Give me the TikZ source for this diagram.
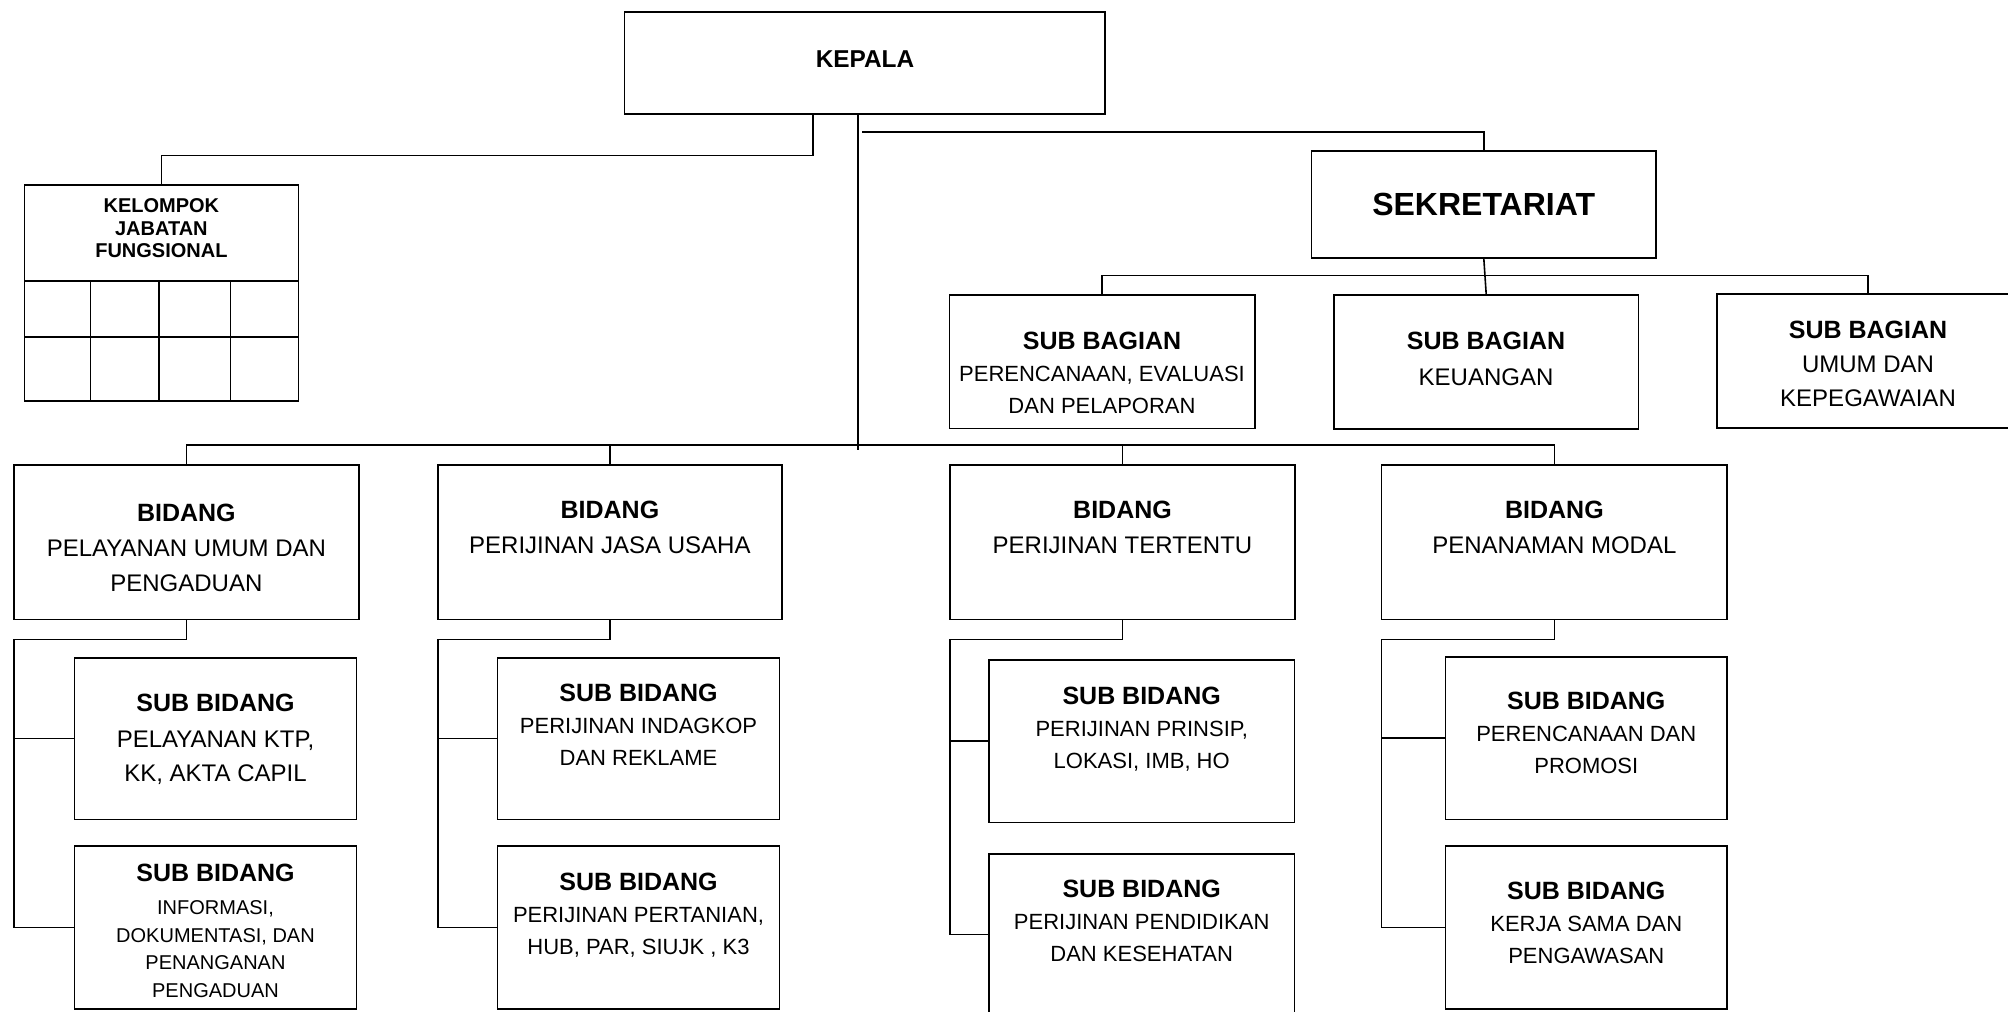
\documentclass[tikz,border=0pt]{standalone}
\usepackage{fontspec}
\setmainfont{Liberation Sans}
\usetikzlibrary{fit}
\newcommand{\hd}[1]{{\fontsize{12.5}{15}\selectfont\bfseries #1}}

\begin{document}
\begin{tikzpicture}[x=0.5pt, y=-0.5pt, line width=0.8pt,
  box/.style={draw, inner sep=0pt, outer sep=0pt},
  txt/.style={align=center, inner sep=0pt, anchor=north, font=\fontsize{12}{17}\selectfont},
  txtsmall/.style={txt, font=\fontsize{11}{16}\selectfont},
  txttiny/.style={txt, font=\fontsize{10}{13.7}\selectfont}]
\useasboundingbox (0,0) rectangle (2008,1012);
\clip (0,0) rectangle (2008,1012);

\node[box, fit={(624.3,12) (1105,113.7)}] (kepala) {};
\node[txt, font=\fontsize{12.2}{14}\selectfont\bfseries] (kepala-t) at (865,50) {KEPALA};

\node[box, fit={(24.3,185) (298.4,281)}] (kjf) {};
\node[txt, font=\fontsize{10}{11.2}\selectfont\bfseries] (kjf-t) at (161.4,198) {KELOMPOK\\JABATAN\\FUNGSIONAL};
\draw (kjf.south west) rectangle (298.4,401);
\draw (24.3,337) -- (298.4,337);
\foreach \x in {90.3,159,230.5} \draw (\x,281) -- (\x,401);

\node[box, fit={(1311.3,150.7) (1656.2,257.7)}] (sek) {};
\node[txt, font=\fontsize{16}{19}\selectfont\bfseries] (sek-t) at (1483.7,192.7) {SEKRETARIAT};

\node[box, fit={(949.5,295) (1254.8,428.3)}] (sb1) {};
\node[box, fit={(1334,295) (1638.5,429)}] (sb2) {};
\node[box, fit={(1717,294) (2019,428)}] (sb3) {};
\node[txtsmall] (sb1-t) at (1102,331.7) {\hd{SUB BAGIAN}\\PERENCANAAN, EVALUASI\\DAN PELAPORAN};
\node[txt, font=\fontsize{12}{18}\selectfont] (sb2-t) at (1486,331.7) {\hd{SUB BAGIAN}\\KEUANGAN};
\node[txt] (sb3-t) at (1868,320.7) {\hd{SUB BAGIAN}\\UMUM DAN\\KEPEGAWAIAN};

\node[box, fit={(13.8,464.8) (359,619.5)}] (bd1) {};
\node[box, fit={(437.8,464.8) (782,619.5)}] (bd2) {};
\node[box, fit={(950,464.8) (1295,619.5)}] (bd3) {};
\node[box, fit={(1381.6,464.8) (1727.2,619.5)}] (bd4) {};
\node[txt, font=\fontsize{12}{17.5}\selectfont] (bd1-t) at (186.4,503.3) {\hd{BIDANG}\\PELAYANAN UMUM DAN\\PENGADUAN};
\node[txt, font=\fontsize{12}{17.5}\selectfont] (bd2-t) at (609.9,500.2) {\hd{BIDANG}\\PERIJINAN JASA USAHA};
\node[txt, font=\fontsize{12}{17.5}\selectfont] (bd3-t) at (1122.5,500.2) {\hd{BIDANG}\\PERIJINAN TERTENTU};
\node[txt, font=\fontsize{12}{17.5}\selectfont] (bd4-t) at (1554.4,500.2) {\hd{BIDANG}\\PENANAMAN MODAL};

\node[box, fit={(74.5,657.8) (356.6,819.4)}] (sub1-a) {};
\node[box, fit={(74.5,846) (356.6,1009)}] (sub1-b) {};
\node[box, fit={(497.4,657.8) (779.6,819.4)}] (sub2-a) {};
\node[box, fit={(497.4,846) (779.6,1009)}] (sub2-b) {};
\node[box, fit={(989,660) (1294.4,822.3)}] (sub3-a) {};
\node[box, fit={(989,854) (1294.4,1014.6)}] (sub3-b) {};
\node[box, fit={(1445.4,657) (1727.2,819.4)}] (sub4-a) {};
\node[box, fit={(1445.4,846) (1727.2,1009)}] (sub4-b) {};

\node[txt] (sub1-a-t) at (215.5,692.8) {\hd{SUB BIDANG}\\[1pt]PELAYANAN KTP,\\KK, AKTA CAPIL};
\node[txttiny] (sub1-b-t) at (215.5,863.2) {\hd{SUB BIDANG}\\[3pt]INFORMASI,\\DOKUMENTASI, DAN\\PENANGANAN\\PENGADUAN};
\node[txtsmall] (sub2-a-t) at (638.5,683.7) {\hd{SUB BIDANG}\\PERIJINAN INDAGKOP\\DAN REKLAME};
\node[txtsmall] (sub2-b-t) at (638.5,872.3) {\hd{SUB BIDANG}\\PERIJINAN PERTANIAN,\\HUB, PAR, SIUJK , K3};
\node[txtsmall] (sub3-a-t) at (1141.7,686.3) {\hd{SUB BIDANG}\\PERIJINAN PRINSIP,\\LOKASI, IMB, HO};
\node[txtsmall] (sub3-b-t) at (1141.7,879.6) {\hd{SUB BIDANG}\\PERIJINAN PENDIDIKAN\\DAN KESEHATAN};
\node[txtsmall] (sub4-a-t) at (1586.3,691.7) {\hd{SUB BIDANG}\\PERENCANAAN DAN\\PROMOSI};
\node[txtsmall] (sub4-b-t) at (1586.3,881.4) {\hd{SUB BIDANG}\\KERJA SAMA DAN\\PENGAWASAN};

\coordinate (trunk) at (857.7,450);
\coordinate (sekstart) at (862.3,131.7);
\coordinate (kjfelbow) at (812.7,155.3);
\coordinate (bus) at (0,445);
\coordinate (sekbus) at (0,275.3);

\draw (kepala.south -| kjfelbow) -- (kjfelbow) -| (kjf.north);
\draw (kepala.south -| trunk) -- (trunk);
\draw (sekstart) -| (sek.north);
\draw (sek.south) -- (sb2.north);
\draw (sb1.north) -- (sb1.north |- sekbus) -- (sb3.north |- sekbus) -- (sb3.north);

\draw (bd1.north) -- (bd1.north |- bus) -- (bd4.north |- bus) -- (bd4.north);
\foreach \k in {2,3} \draw (bd\k.north) -- (bd\k.north |- bus);

\foreach \k in {1,...,4}{
  \draw (bd\k.south) -- ++(0,20) -| (bd\k.west |- sub\k-b.west) -- (sub\k-b.west);
  \draw (sub\k-a.west) -- (sub\k-a.west -| bd\k.west);
}
\end{tikzpicture}
\end{document}
